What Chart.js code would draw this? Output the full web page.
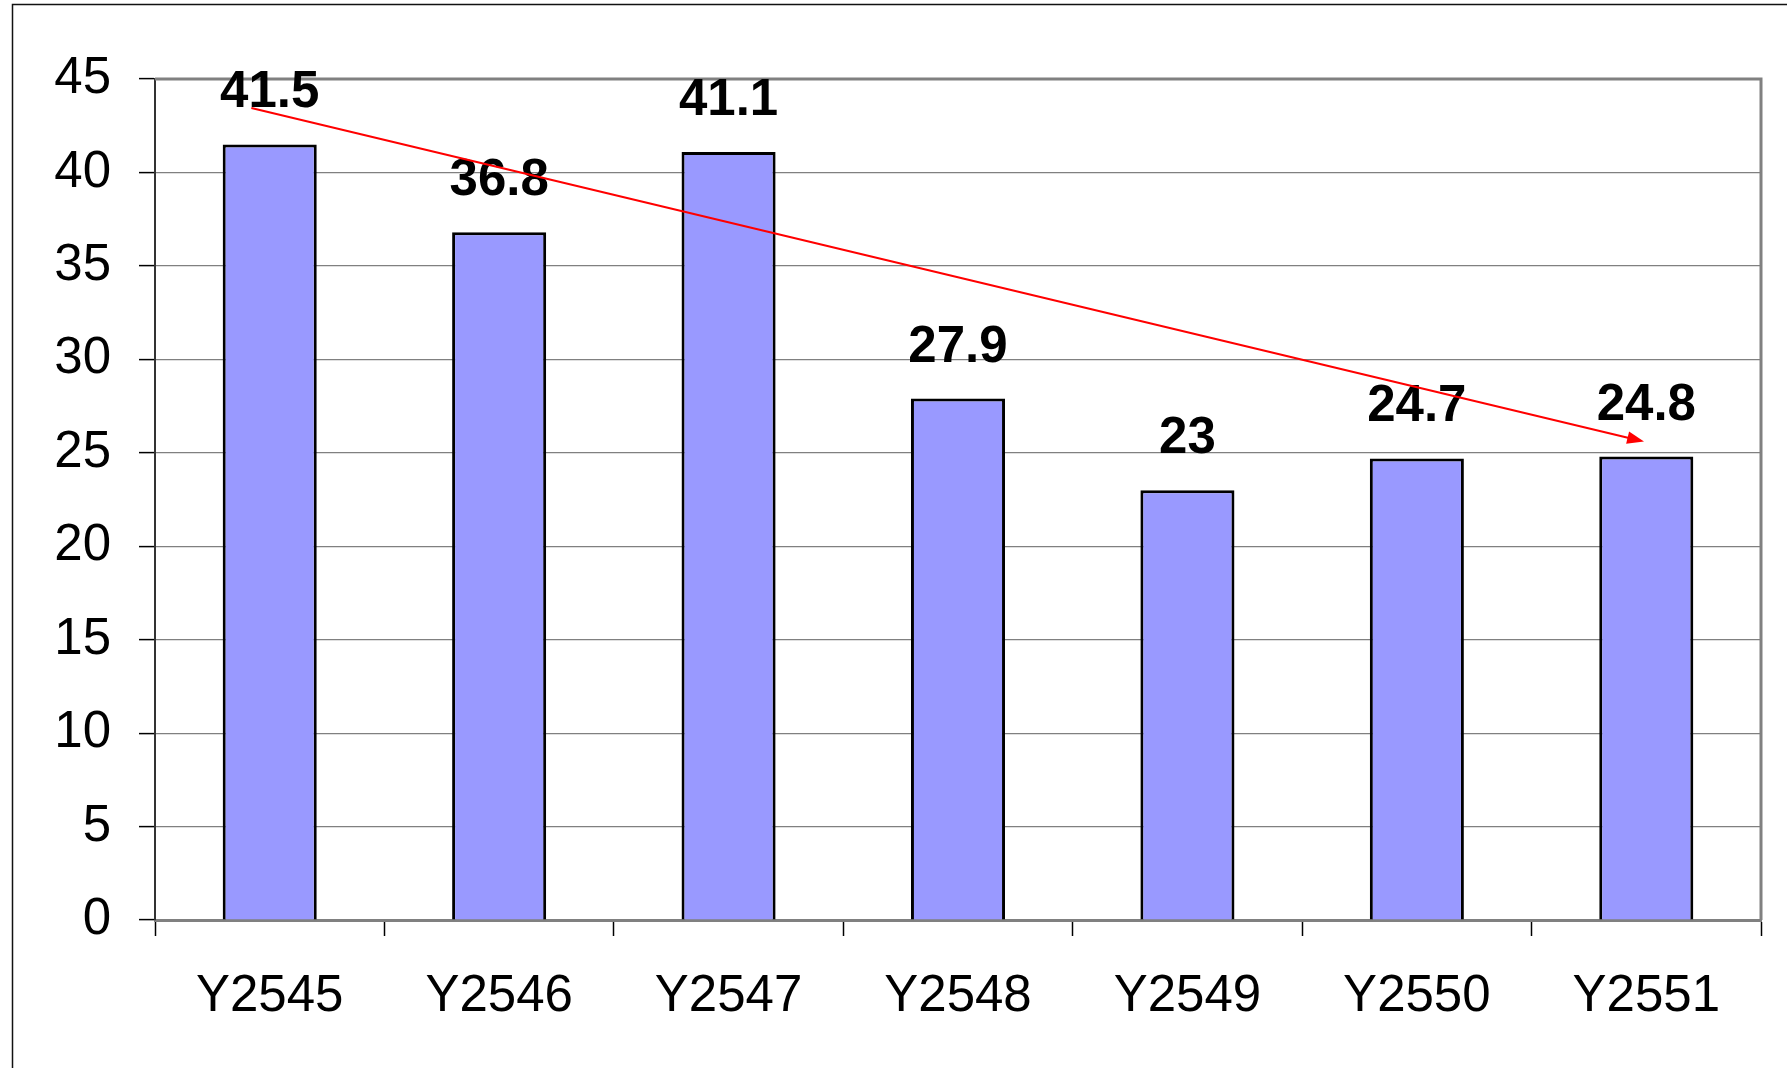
<!DOCTYPE html>
<html>
<head>
<meta charset="utf-8">
<title>Y2545 - Y2551</title>
<script src="https://cdn.jsdelivr.net/npm/chart.js@4.4.1/dist/chart.umd.min.js"></script>
<style>
  html, body { margin: 0; padding: 0; background: #fff; }
  #wrap { width: 1787px; height: 1068px; }
</style>
</head>
<body>
<div id="wrap"><canvas id="myChart" width="1787" height="1068"></canvas></div>
<script>
// data
var years = ['Y2545', 'Y2546', 'Y2547', 'Y2548', 'Y2549', 'Y2550', 'Y2551'];
var values = [41.5, 36.8, 41.1, 27.9, 23, 24.7, 24.8];
var yTicks = [0, 5, 10, 15, 20, 25, 30, 35, 40, 45];
// trend arrow, in (category index, value) units
var trendFrom = [-0.08, 43.45];
var trendTo = [5.99, 25.6];

var FONT = '"Liberation Sans", Arial, sans-serif';

// frame round the whole picture + grey box round the plot
var frames = {
    id: 'frames',
    beforeDraw: function(chart) {
        var c = chart.ctx;
        c.save();
        c.strokeStyle = '#111';
        c.lineWidth = 1.5;
        c.strokeRect(12.5, 4.5, 4000, 4000);
        c.restore();
    },
    beforeDatasetsDraw: function(chart) {
        var a = chart.chartArea, c = chart.ctx;
        c.save();
        c.strokeStyle = '#808080';
        c.lineWidth = 3;
        c.beginPath();
        c.moveTo(a.left, a.top);
        c.lineTo(a.right, a.top);
        c.lineTo(a.right, a.bottom);
        c.stroke();
        c.restore();
    }
};

// value labels over the bars and the red trend arrow
var overlay = {
    id: 'overlay',
    afterDatasetsDraw: function(chart) {
        var c = chart.ctx;
        var meta = chart.getDatasetMeta(0);
        c.save();
        c.font = 'bold 51px ' + FONT;
        c.fillStyle = '#000';
        c.textAlign = 'center';
        c.textBaseline = 'alphabetic';
        meta.data.forEach(function(bar, i) {
            c.fillText(String(values[i]), bar.x, bar.y - 37);
        });

        var xs = chart.scales.x, ys = chart.scales.y;
        var x1 = xs.getPixelForValue(trendFrom[0]), y1 = ys.getPixelForValue(trendFrom[1]);
        var x2 = xs.getPixelForValue(trendTo[0]), y2 = ys.getPixelForValue(trendTo[1]);
        var ang = Math.atan2(y2 - y1, x2 - x1);
        var head = 18, spread = 0.36;
        c.strokeStyle = '#ff0000';
        c.fillStyle = '#ff0000';
        c.lineWidth = 2;
        c.beginPath();
        c.moveTo(x1, y1);
        c.lineTo(x2 - Math.cos(ang) * head * 0.8, y2 - Math.sin(ang) * head * 0.8);
        c.stroke();
        c.beginPath();
        c.moveTo(x2, y2);
        c.lineTo(x2 - head * Math.cos(ang - spread), y2 - head * Math.sin(ang - spread));
        c.lineTo(x2 - head * Math.cos(ang + spread), y2 - head * Math.sin(ang + spread));
        c.closePath();
        c.fill();
        c.restore();
    }
};

var ctx = document.getElementById('myChart').getContext('2d');
var myChart = new Chart(ctx, {
    type: 'bar',
    data: {
        labels: years,
        datasets: [{
            data: values,
            backgroundColor: '#9999ff',
            borderColor: '#000',
            borderWidth: 3,
            borderSkipped: 'bottom',
            barPercentage: 0.41,
            categoryPercentage: 1
        }]
    },
    options: {
        responsive: false,
        animation: false,
        layout: { padding: { left: 0, top: 79, right: 26, bottom: 0 } },
        plugins: {
            legend: { display: false },
            tooltip: { enabled: false }
        },
        scales: {
            x: {
                afterFit: function(scale) { scale.height = 148; },
                grid: {
                    offset: true,
                    drawOnChartArea: false,
                    tickLength: 16,
                    tickColor: '#000',
                    tickWidth: 1.5
                },
                border: { color: '#808080', width: 3 },
                ticks: {
                    color: '#000',
                    padding: 30,
                    font: { family: FONT, size: 51 }
                }
            },
            y: {
                min: 0,
                max: 45,
                afterFit: function(scale) { scale.width = 155; },
                afterBuildTicks: function(scale) {
                    scale.ticks = yTicks.map(function(v) { return { value: v }; });
                },
                grid: {
                    color: '#808080',
                    lineWidth: 1.2,
                    tickLength: 16,
                    tickColor: '#000',
                    tickWidth: 1.5
                },
                border: { color: '#333', width: 2 },
                ticks: {
                    color: '#000',
                    padding: 28,
                    font: { family: FONT, size: 51 }
                }
            }
        }
    },
    plugins: [frames, overlay]
});
</script>
</body>
</html>
